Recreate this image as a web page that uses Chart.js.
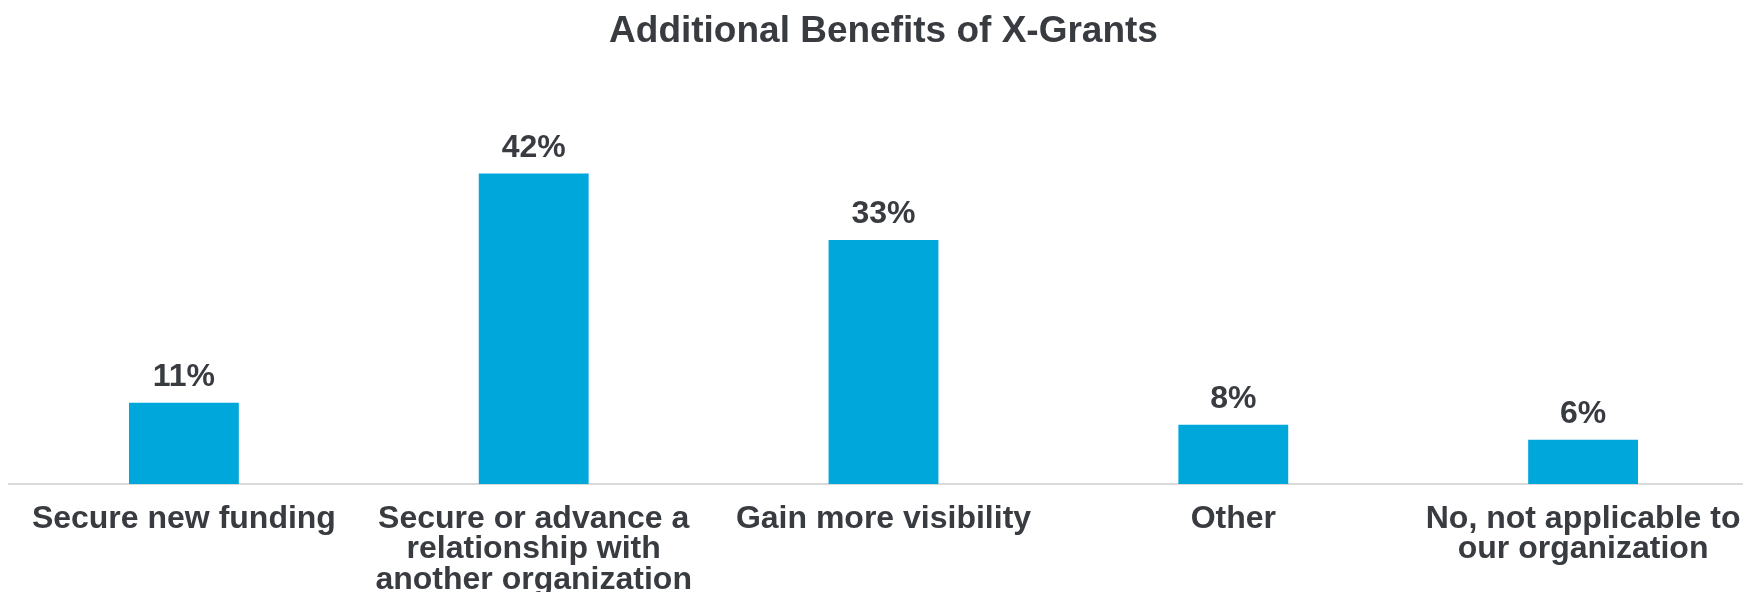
<!DOCTYPE html>
<html>
<head>
<meta charset="utf-8">
<title>Additional Benefits of X-Grants</title>
<script src="https://cdn.jsdelivr.net/npm/chart.js@4/dist/chart.umd.min.js"></script>
<style>
    html, body { margin: 0; padding: 0; background: #fff; overflow: hidden; }
    #wrap { position: relative; width: 1760px; height: 592px; }
</style>
</head>
<body>
<div id="wrap"><canvas id="bar_benefits_chart"></canvas></div>
<script>
const categories = [
    'Secure new funding',
    ['Secure or advance a', 'relationship with', 'another organization'],
    'Gain more visibility',
    'Other',
    ['No, not applicable to', 'our organization']
]
const shares = [11, 42, 33, 8, 6]
const y_max = 50

const text_color = '#383b40'
const font_family = "'Liberation Sans', Arial, Helvetica, sans-serif"

// percentage above each bar
const bar_values = {
    id: 'bar_values',
    afterDatasetsDraw(chart) {
        const ctx = chart.ctx
        ctx.save()
        ctx.font = 'bold 32px ' + font_family
        ctx.fillStyle = text_color
        ctx.textAlign = 'center'
        ctx.textBaseline = 'alphabetic'
        chart.getDatasetMeta(0).data.forEach((bar, i) => {
            ctx.fillText(shares[i] + '%', bar.x, bar.y - 17)
        })
        ctx.restore()
    }
}

const benefits_chart = document.querySelector('#bar_benefits_chart')

new Chart(benefits_chart, {
    type: 'bar',
    data: {
        labels: categories,
        datasets: [{
            data: shares,
            backgroundColor: '#00a7db',
            barPercentage: 0.314,
            categoryPercentage: 1
        }]
    },
    options: {
        responsive: true,
        maintainAspectRatio: false,
        animation: false,
        layout: {
            padding: { left: 9, right: 2, top: 0, bottom: 0 }
        },
        plugins: {
            legend: false,
            tooltip: { enabled: false },
            title: {
                display: true,
                text: 'Additional Benefits of X-Grants',
                color: text_color,
                font: { family: font_family, size: 37, weight: 'bold', lineHeight: 1.2 },
                padding: { top: 10, bottom: 60 }
            }
        },
        scales: {
            x: {
                grid: { display: false },
                border: { display: true, color: '#d9d9d9', width: 2 },
                ticks: {
                    color: text_color,
                    padding: 12,
                    maxRotation: 0,
                    autoSkip: false,
                    font: { family: font_family, size: 32, weight: 'bold', lineHeight: 0.95 }
                },
                afterFit: scale => { scale.height = 108 }
            },
            y: {
                display: false,
                min: 0,
                max: y_max
            }
        }
    },
    plugins: [bar_values]
})
</script>
</body>
</html>
